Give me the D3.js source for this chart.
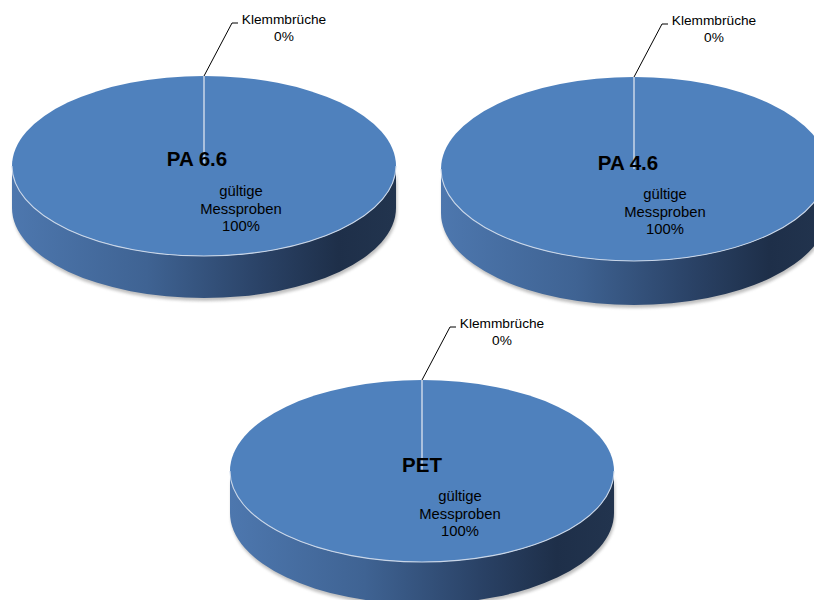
<!DOCTYPE html>
<html>
<head>
<meta charset="utf-8">
<script src="https://cdn.jsdelivr.net/npm/d3@7"></script>
<style>
  html, body { margin: 0; padding: 0; background: #ffffff; }
  svg { display: block; }
  text { font-family: "Liberation Sans", Arial, sans-serif; fill: #000; }
</style>
</head>
<body>
<svg id="chart" width="814" height="600"></svg>
<script>
// Materials and slice categories
const materials = ["PA 6.6", "PA 4.6", "PET"];
const categories = ["Klemmbrüche", "gültige Messproben"];
// Share of each category per material (percent)
const klemmbrueche = [0, 0, 0];
const gueltigeMessproben = [100, 100, 100];

// Placement and size of each 3D pie on the page
const layout = [
  { cx: 204, cy: 166, rx: 192, ry: 90, depth: 42, titleDx: -7, titleY: 166, labelDx: 37 },
  { cx: 634, cy: 169, rx: 193, ry: 92, depth: 44, titleDx: -6, titleY: 170, labelDx: 31 },
  { cx: 422, cy: 471, rx: 192, ry: 91, depth: 42, titleDx: 0,  titleY: 472, labelDx: 38 }
];

const svg = d3.select("#chart");
const defs = svg.append("defs");

defs.append("filter").attr("id", "soft")
  .attr("x", "-10%").attr("y", "-10%").attr("width", "120%").attr("height", "130%")
  .append("feGaussianBlur").attr("stdDeviation", 1.6);

const pie = d3.pie().sort(null).value(d => d.value);
const arcUnit = d3.arc().innerRadius(0).outerRadius(1);

// point on the tilted top face for a pie angle (0 = 12 o'clock, clockwise)
const project = (p, a) => [p.cx + p.rx * Math.sin(a), p.cy - p.ry * Math.cos(a)];

materials.forEach((name, i) => {
  const p = layout[i];
  const { rx, ry, depth } = p;
  const data = pie([
    { cat: categories[0], value: klemmbrueche[i] },
    { cat: categories[1], value: gueltigeMessproben[i] }
  ]);
  const g = svg.append("g");

  // side wall gradient (lighter on the left, dark navy on the right)
  const gid = "side" + i;
  const grad = defs.append("linearGradient").attr("id", gid)
    .attr("gradientUnits", "userSpaceOnUse")
    .attr("x1", p.cx - rx).attr("y1", 0).attr("x2", p.cx + rx).attr("y2", 0);
  [[0, "#4d77ae"], [0.35, "#3f6393"], [0.65, "#2a4266"], [0.85, "#1e2f49"], [1, "#22344e"]]
    .forEach(([o, c]) => grad.append("stop").attr("offset", o).attr("stop-color", c));

  const sidePath = (dx, dy) => {
    const L = p.cx - rx + dx, R = p.cx + rx + dx, y0 = p.cy + dy;
    return `M${L},${y0} A${rx},${ry} 0 0 0 ${R},${y0} L${R},${y0 + depth} ` +
           `A${rx},${ry} 0 0 1 ${L},${y0 + depth} Z`;
  };

  // soft drop shadow under the wall
  g.append("path").attr("d", sidePath(1, 3))
    .attr("fill", "#8a8a8a").attr("opacity", 0.55).attr("filter", "url(#soft)");

  // side wall
  g.append("path").attr("d", sidePath(0, 0)).attr("fill", `url(#${gid})`);

  // top face slices, drawn on a unit circle and squashed into the ellipse
  const top = g.append("g")
    .attr("transform", `translate(${p.cx},${p.cy}) scale(${rx},${ry})`);
  top.selectAll("path.slice").data(data).join("path")
    .attr("class", "slice")
    .attr("d", d => d.endAngle - d.startAngle >= 2 * Math.PI - 1e-9
      ? "M0,-1 A1,1 0 1 1 0,1 A1,1 0 1 1 0,-1 Z"
      : arcUnit(d))
    .attr("fill", "#4f81bd");

  // light rim along the front edge of the top face
  g.append("path")
    .attr("d", `M${p.cx - rx},${p.cy} A${rx},${ry} 0 0 0 ${p.cx + rx},${p.cy}`)
    .attr("fill", "none").attr("stroke", "#c9d6e8").attr("stroke-width", 1.1);

  // slice borders (from centre to each slice start)
  data.forEach(d => {
    const [x, y] = project(p, d.startAngle);
    g.append("line")
      .attr("x1", p.cx).attr("y1", p.cy).attr("x2", x).attr("y2", y)
      .attr("stroke", "#c9d6e8").attr("stroke-width", 1);
  });

  // leader line and label for the zero-share slice
  const k = data[0];
  const mid = (k.startAngle + k.endAngle) / 2;
  const [ax, ay] = project(p, mid);
  const ex = ax + 28, ey = ay - 53;
  g.append("polyline")
    .attr("points", `${ax},${ay} ${ex},${ey} ${ex + 6},${ey}`)
    .attr("fill", "none").attr("stroke", "#000").attr("stroke-width", 1);
  const kl = g.append("text").attr("text-anchor", "middle").style("font-size", "13.7px");
  kl.append("tspan").attr("x", ax + 80).attr("y", ay - 52).text(k.data.cat);
  kl.append("tspan").attr("x", ax + 80).attr("y", ay - 35).text(`${k.data.value}%`);

  // label for the valid-sample slice
  const v = data[1];
  const words = v.data.cat.split(" ");
  const vl = g.append("text").attr("text-anchor", "middle").style("font-size", "14.8px");
  [...words, `${v.data.value}%`].forEach((t, j) => {
    vl.append("tspan").attr("x", p.cx + p.labelDx).attr("y", p.cy + 30 + j * 17.5).text(t);
  });

  // material title
  g.append("text").attr("text-anchor", "middle")
    .attr("x", p.cx + p.titleDx).attr("y", p.titleY)
    .style("font-size", "20.5px").style("font-weight", "bold")
    .text(name);
});
</script>
</body>
</html>
